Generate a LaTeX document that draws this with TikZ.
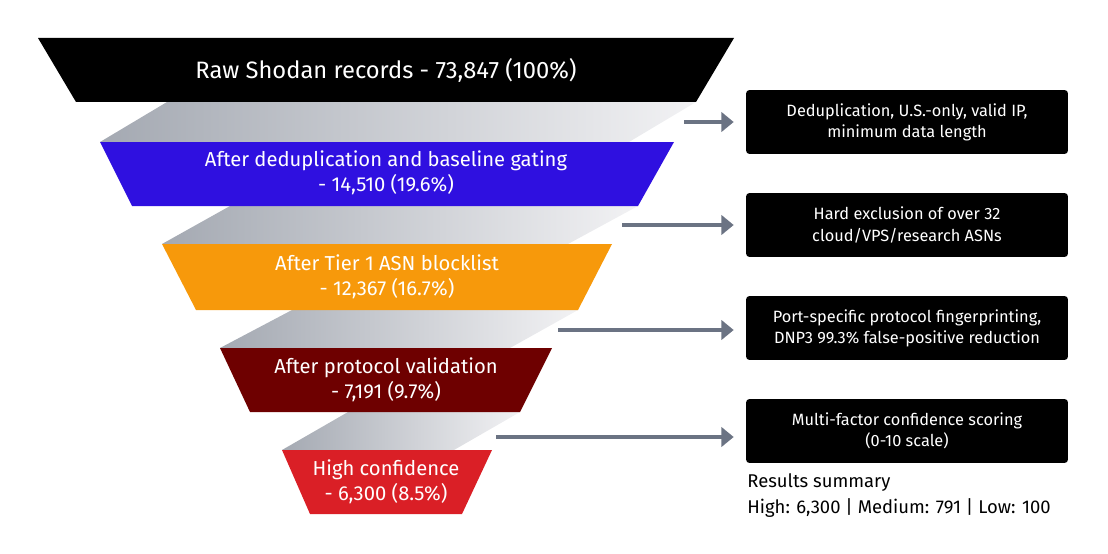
\documentclass[tikz,border=0pt]{standalone}
\usepackage{fontspec}
\setmainfont{Fira Sans}
\usetikzlibrary{arrows.meta}
\definecolor{fblue}{HTML}{2F10E0}
\definecolor{forange}{HTML}{F7990B}
\definecolor{fdred}{HTML}{6E0000}
\definecolor{fred}{HTML}{DA1F26}
\definecolor{arr}{HTML}{6B7383}
\definecolor{bandl}{HTML}{A4A9B2}
\definecolor{bandr}{HTML}{F2F2F4}
\begin{document}
\begin{tikzpicture}[x=0.02cm,y=-0.02cm,
  band/.style={left color=bandl,right color=bandr,draw=none},
  lab/.style={text=white,align=center,font=\fontsize{11.5}{14}\selectfont},
  box/.style={fill=black,rounded corners=2pt,minimum width=6.44cm,minimum height=1.28cm,text=white,align=center,font=\fontsize{9.3}{12}\selectfont,inner sep=0pt},
  conn/.style={draw=arr,line width=2.4pt,-{Triangle[length=7pt,width=11pt]}}]
\useasboundingbox (0,0) rectangle (1108,554);
% bands
\shade[band] (167,102) -- (696,102) -- (629,142) -- (100,142) -- cycle;
\shade[band] (230,206) -- (638,206) -- (568,244) -- (162,244) -- cycle;
\shade[band] (292,310) -- (578,310) -- (510,348) -- (220,348) -- cycle;
\shade[band] (348,412) -- (520,412) -- (454,450) -- (282,450) -- cycle;
% trapezoids
\fill[black] (38,38) -- (734,38) -- (696,102) -- (76,102) -- cycle;
\fill[fblue] (100,142) -- (674,142) -- (638,206) -- (132,206) -- cycle;
\fill[forange] (162,244) -- (612,244) -- (578,310) -- (196,310) -- cycle;
\fill[fdred] (220,348) -- (552,348) -- (520,412) -- (250,412) -- cycle;
\fill[fred] (282,450) -- (492,450) -- (462,514) -- (310,514) -- cycle;
\node[lab,font=\fontsize{13.5}{16}\selectfont] (t1) at (386,70) {Raw Shodan records - 73,847 (100\%)};
\node[lab] (t2) at (386,173) {After deduplication and baseline gating\\- 14,510 (19.6\%)};
\node[lab] (t3) at (387,277) {After Tier 1 ASN blocklist\\- 12,367 (16.7\%)};
\node[lab] (t4) at (386,380) {After protocol validation\\- 7,191 (9.7\%)};
\node[lab] (t5) at (386,482) {High confidence\\- 6,300 (8.5\%)};
% boxes
\node[box] (b1) at (907,122) {Deduplication, U.S.-only, valid IP,\\minimum data length};
\node[box] (b2) at (907,225) {Hard exclusion of over 32\\cloud/VPS/research ASNs};
\node[box] (b3) at (907,328) {Port-specific protocol fingerprinting,\\DNP3 99.3\% false-positive reduction};
\node[box] (b4) at (907,431) {Multi-factor confidence scoring\\(0-10 scale)};
\coordinate (s1) at (684,122);
\coordinate (s2) at (622,225);
\coordinate (s3) at (558,330);
\coordinate (s4) at (496,437);
\draw[conn] (s1) -- ([xshift=-0.24cm]s1 -| b1.west);
\draw[conn] (s2) -- ([xshift=-0.24cm]s2 -| b2.west);
\draw[conn] (s3) -- ([xshift=-0.24cm]s3 -| b3.west);
\draw[conn] (s4) -- ([xshift=-0.24cm]s4 -| b4.west);
\node[anchor=west,font=\fontsize{10.5}{13}\selectfont,inner sep=0pt] (r1) at (747,483) {Results summary};
\node[anchor=west,font=\fontsize{10.5}{13}\selectfont,inner sep=0pt] (r2) at (747,508) {High: 6,300 | Medium: 791 | Low: 100};
\end{tikzpicture}
\end{document}
